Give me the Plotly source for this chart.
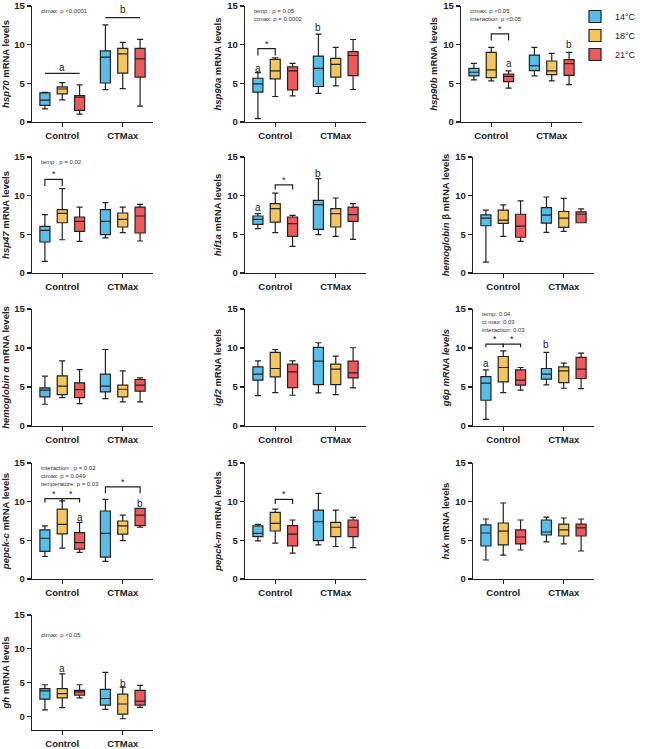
import plotly.graph_objects as go

W, H = 646, 749
groups = ["Control", "CTMax"]
temps = ["14°C", "18°C", "21°C"]
colors = ["#56BEEB", "#F6C65E", "#EE5A5C"]

# each list: [Control, CTMax], each entry (min, q1, median, q3, max)
hsp70_14 = [(1.71, 2.14, 2.82, 3.76, 3.85), (4.19, 5.04, 8.38, 9.19, 12.56)]
hsp70_18 = [(2.86, 3.63, 4.27, 4.53, 5.09), (4.32, 6.32, 8.80, 9.53, 10.30)]
hsp70_21 = [(1.03, 1.50, 3.20, 3.42, 4.79), (2.05, 5.81, 8.16, 9.53, 10.68)]

hsp90a_14 = [(0.43, 3.86, 4.93, 5.66, 6.39), (3.69, 4.59, 6.94, 8.53, 11.36)]
hsp90a_18 = [(3.30, 5.57, 6.60, 8.10, 8.31), (4.67, 5.79, 7.46, 8.23, 9.64)]
hsp90a_21 = [(3.39, 4.16, 6.60, 7.12, 7.59), (4.20, 6.00, 8.60, 9.10, 10.67)]

hsp90b_14 = [(5.44, 5.96, 6.43, 6.94, 7.59), (5.96, 6.64, 7.29, 8.66, 9.64)]
hsp90b_18 = [(5.31, 5.74, 6.73, 9.00, 9.64), (5.31, 6.13, 6.60, 7.89, 8.87)]
hsp90b_21 = [(4.37, 5.23, 5.91, 6.21, 6.60), (4.84, 6.04, 7.54, 8.06, 9.00)]

hsp47_14 = [(1.51, 4.01, 5.52, 6.03, 7.54), (4.53, 4.96, 6.68, 8.19, 9.10)]
hsp47_18 = [(4.30, 6.50, 7.70, 8.20, 10.90), (5.22, 5.95, 6.94, 7.76, 8.53)]
hsp47_21 = [(4.09, 5.39, 6.68, 7.24, 8.53), (4.14, 5.17, 7.37, 8.53, 8.88)]

hif1a_14 = [(5.73, 6.29, 6.94, 7.37, 7.67), (4.96, 5.65, 8.84, 9.40, 12.20)]
hif1a_18 = [(5.22, 6.59, 8.32, 8.97, 10.34), (4.74, 5.95, 7.67, 8.32, 9.70)]
hif1a_21 = [(3.45, 4.74, 6.38, 7.24, 7.46), (4.35, 6.68, 7.54, 8.53, 8.97)]

hbb_14 = [(1.41, 6.11, 7.09, 7.52, 8.12), (5.26, 6.45, 7.48, 8.46, 9.83)]
hbb_18 = [(4.74, 6.41, 6.85, 8.12, 8.80), (5.38, 5.90, 7.09, 7.95, 9.66)]
hbb_21 = [(4.10, 4.62, 6.07, 7.60, 9.32), (6.50, 6.50, 7.60, 7.90, 8.29)]

hba_14 = [(2.79, 3.73, 4.59, 4.89, 6.39), (3.51, 4.37, 5.10, 6.64, 9.81)]
hba_18 = [(3.64, 4.03, 5.10, 6.43, 8.36), (3.09, 3.73, 4.71, 5.23, 7.07)]
hba_21 = [(2.87, 3.64, 4.67, 5.53, 7.24), (3.09, 4.46, 5.23, 5.96, 6.17)]

igf2_14 = [(3.90, 5.87, 6.64, 7.59, 8.36), (4.24, 5.31, 8.31, 10.07, 10.67)]
igf2_18 = [(4.29, 6.30, 7.37, 9.43, 9.81), (4.03, 5.31, 7.29, 7.93, 8.96)]
igf2_21 = [(3.94, 4.93, 6.94, 7.93, 8.36), (4.89, 6.17, 6.81, 8.31, 10.03)]

g6p_14 = [(0.86, 3.30, 5.49, 6.34, 7.20), (5.27, 6.00, 6.64, 7.37, 9.43)]
g6p_18 = [(4.29, 5.66, 7.50, 8.91, 9.64), (4.84, 5.57, 7.07, 7.59, 8.06)]
g6p_21 = [(4.59, 5.23, 5.87, 7.20, 7.50), (4.80, 6.09, 7.29, 8.79, 9.34)]

pepckc_14 = [(2.91, 3.56, 5.27, 6.34, 6.86), (2.27, 2.83, 5.91, 8.79, 10.29)]
pepckc_18 = [(3.99, 5.83, 7.07, 9.04, 10.11), (4.97, 5.79, 6.86, 7.50, 8.27)]
pepckc_21 = [(3.43, 3.86, 4.71, 6.00, 7.33), (6.69, 6.90, 8.27, 9.13, 9.13)]

pepckm_14 = [(4.93, 5.49, 5.90, 6.86, 7.07), (4.41, 4.97, 7.41, 8.91, 11.06)]
pepckm_18 = [(4.63, 6.21, 7.20, 8.61, 9.04), (4.20, 5.49, 6.69, 7.33, 8.91)]
pepckm_21 = [(3.34, 4.29, 5.79, 6.90, 7.63), (4.07, 5.49, 6.69, 7.63, 7.97)]

hxk_14 = [(2.46, 4.27, 5.95, 7.00, 7.76), (4.79, 5.69, 6.08, 7.63, 8.00)]
hxk_18 = [(3.10, 4.40, 6.20, 7.24, 9.83), (4.53, 5.56, 6.34, 7.10, 7.89)]
hxk_21 = [(3.75, 4.53, 5.43, 6.34, 7.63), (3.62, 5.56, 6.60, 7.10, 7.76)]

gh_14 = [(0.97, 2.56, 3.77, 4.11, 4.69), (1.06, 1.69, 2.66, 4.02, 6.53)]
gh_18 = [(1.31, 2.76, 3.39, 4.11, 6.29), (-0.34, 0.34, 1.84, 3.29, 4.35)]
gh_21 = [(2.76, 3.14, 3.63, 3.87, 4.69), (1.35, 1.69, 2.27, 3.87, 4.60)]

ylabels = [
    "<i>hsp70</i> mRNA levels", "<i>hsp90a</i> mRNA levels", "<i>hsp90b</i> mRNA levels",
    "<i>hsp47</i> mRNA levels", "<i>hif1a</i> mRNA levels", "<i>hemoglobin</i> β mRNA levels",
    "<i>hemoglobin α</i> mRNA levels", "<i>igf2</i> mRNA levels", "<i>g6p mRNA levels</i>",
    "<i>pepck-c</i> mRNA levels", "<i>pepck-m</i> mRNA levels", "<i>hxk</i> mRNA levels",
    "<i>gh</i> mRNA levels",
]
panel_data = [
    (hsp70_14, hsp70_18, hsp70_21), (hsp90a_14, hsp90a_18, hsp90a_21),
    (hsp90b_14, hsp90b_18, hsp90b_21), (hsp47_14, hsp47_18, hsp47_21),
    (hif1a_14, hif1a_18, hif1a_21), (hbb_14, hbb_18, hbb_21),
    (hba_14, hba_18, hba_21), (igf2_14, igf2_18, igf2_21),
    (g6p_14, g6p_18, g6p_21), (pepckc_14, pepckc_18, pepckc_21),
    (pepckm_14, pepckm_18, pepckm_21), (hxk_14, hxk_18, hxk_21),
    (gh_14, gh_18, gh_21),
]
y_ranges = [[0, 15]] * 12 + [[-2, 15]]

# p-value notes per panel
notes = {
    0: ["ctmax: p <0.0001"],
    1: ["temp : p = 0.05", "ctmax: p = 0.0002"],
    2: ["ctmax: p <0.05", "interaction: p <0.05"],
    3: ["temp : p = 0.02"],
    8: ["temp: 0.04", "ct max: 0.03", "interaction: 0.03"],
    9: ["interaction : p = 0.02", "ctmax: p = 0.049", "temperature: p = 0.03"],
    12: ["ctmax: p <0.05"],
}
# letters: (panel, group, slot, y, text)
letters = [
    (0, 0, 1, 7.0, "a"), (0, 1, 1, 14.6, "b"),
    (1, 0, 0, 6.9, "a"), (1, 1, 0, 12.2, "b"),
    (2, 0, 2, 7.5, "a"), (2, 1, 2, 10.0, "b"),
    (4, 0, 0, 8.45, "a"), (4, 1, 0, 12.85, "b"),
    (8, 0, 0, 7.95, "a"), (8, 1, 0, 10.5, "b"),
    (9, 0, 2, 8.0, "a"), (9, 1, 2, 9.8, "b"),
    (12, 0, 1, 7.1, "a"), (12, 1, 1, 4.85, "b"),
]
# brackets: (panel, group, slot_from, slot_to, y, drop, label)
brackets = [
    (0, 0, 0, 2, 6.3, 0, ""), (0, 1, 0, 2, 13.5, 0, ""),
    (1, 0, 0, 1, 9.5, 0.9, "*"),
    (2, 0, 1, 2, 11.4, 0.85, "*"),
    (3, 0, 0, 1, 12.1, 0.85, "*"),
    (4, 0, 1, 2, 11.4, 0.6, "*"),
    (8, 0, 0, 1, 10.5, 0.4, "*"), (8, 0, 1, 2, 10.5, 0.4, "*"),
    (9, 0, 0, 1, 10.4, 0.5, "*"), (9, 0, 1, 2, 10.4, 0.5, "*"), (9, 1, 0, 2, 11.9, 0.8, "*"),
    (10, 0, 1, 2, 10.3, 0.6, "*"),
]

# layout geometry (pixels)
cols = [(32, 153), (245, 366), (473, 594)]
rows = [(6, 122), (157, 273), (309, 426), (463, 579), (615, 730)]
placement = [(0, 0), (1, 0), (2, 0), (0, 1), (1, 1), (2, 1), (0, 2), (1, 2), (2, 2),
             (0, 3), (1, 3), (2, 3), (0, 4)]
col_override = {2: (461, 582)}

BOXGAP = 0.14
SLOT = (1 - BOXGAP) / 3
FONT = "Liberation Sans, Arial, sans-serif"
INK = "#222222"

fig = go.Figure()
layout = dict(width=W, height=H, autosize=False,
              margin=dict(l=0, r=0, t=0, b=0, pad=0, autoexpand=False),
              paper_bgcolor="white", plot_bgcolor="white", boxmode="group",
              boxgap=BOXGAP, boxgroupgap=0.42, showlegend=True,
              font=dict(family=FONT, color=INK))
annotations, shapes = [], []

for i, (stats, ylab, yr) in enumerate(zip(panel_data, ylabels, y_ranges)):
    c, r = placement[i]
    x0, x1 = col_override.get(i, cols[c])
    top, bot = rows[r]
    sfx = "" if i == 0 else str(i + 1)
    xa, ya = "x" + sfx, "y" + sfx
    for t in range(3):
        s = stats[t]
        fig.add_trace(go.Box(
            x=[0, 1], lowerfence=[v[0] for v in s], q1=[v[1] for v in s],
            median=[v[2] for v in s], q3=[v[3] for v in s], upperfence=[v[4] for v in s],
            name=temps[t], legendgroup=temps[t], showlegend=(i == 0), offsetgroup=str(t),
            fillcolor=colors[t], line=dict(color=INK, width=1.2), whiskerwidth=0.6,
            boxpoints=False, xaxis=xa, yaxis=ya, hoverinfo="skip"))
    layout["xaxis" + sfx] = dict(
        domain=[x0 / W, x1 / W], anchor=ya, range=[-0.5, 1.5], tickvals=[0, 1],
        ticktext=["<b>%s</b>" % g for g in groups], showline=True, linecolor=INK, linewidth=1.3,
        ticks="outside", ticklen=4, tickwidth=1.3, tickcolor=INK, showgrid=False,
        zeroline=False, automargin=False, ticklabeloverflow="allow",
        tickfont=dict(size=9.5, family=FONT, color=INK), fixedrange=True)
    layout["yaxis" + sfx] = dict(
        domain=[1 - bot / H, 1 - top / H], anchor=xa, range=yr, tickvals=[0, 5, 10, 15],
        ticktext=["<b>%d</b>" % v for v in [0, 5, 10, 15]], showline=True, linecolor=INK,
        linewidth=1.3, ticks="outside", ticklen=4, tickwidth=1.3, tickcolor=INK,
        showgrid=False, zeroline=False, automargin=False, ticklabeloverflow="allow",
        tickfont=dict(size=9.5, family=FONT, color=INK),
        title=dict(text="<b>%s</b>" % ylab, font=dict(size=9.5, family=FONT, color=INK),
                   standoff=4), fixedrange=True)
    for k, line in enumerate(notes.get(i, [])):
        annotations.append(dict(xref=xa + " domain", yref=ya + " domain", x=0.055,
                                y=(1.0 - 0.045 - k * 0.066) if yr[0] == 0 else 0.83,
                                text=line, showarrow=False, xanchor="left", yanchor="middle",
                                font=dict(size=6, family=FONT, color="#333333")))

for (p, g, s, yv, txt) in letters:
    sfx = "" if p == 0 else str(p + 1)
    annotations.append(dict(xref="x" + sfx, yref="y" + sfx, x=g + (s - 1) * SLOT, y=yv,
                            text=txt, showarrow=False, yanchor="middle",
                            font=dict(size=10, family=FONT, color=INK)))

for (p, g, s0, s1, yv, drop, lab) in brackets:
    sfx = "" if p == 0 else str(p + 1)
    xa0 = g + (s0 - 1) * SLOT
    xa1 = g + (s1 - 1) * SLOT
    if drop > 0:
        path = "M %f,%f L %f,%f L %f,%f L %f,%f" % (xa0, yv - drop, xa0, yv, xa1, yv, xa1, yv - drop)
    else:
        path = "M %f,%f L %f,%f" % (xa0, yv, xa1, yv)
    shapes.append(dict(type="path", xref="x" + sfx, yref="y" + sfx, path=path,
                       line=dict(color=INK, width=1.2)))
    if lab:
        annotations.append(dict(xref="x" + sfx, yref="y" + sfx, x=(xa0 + xa1) / 2, y=yv,
                                text=lab, showarrow=False, yanchor="bottom", yshift=-2,
                                font=dict(size=9, family=FONT, color=INK)))

layout["annotations"] = annotations
layout["shapes"] = shapes
layout["legend"] = dict(x=575 / W, y=1 - 2 / H, xanchor="left", yanchor="top",
                        font=dict(size=9, family=FONT, color=INK), tracegroupgap=0,
                        itemwidth=30, bgcolor="rgba(0,0,0,0)")
fig.update_layout(**layout)
fig.write_html(
    "out.html",
    config={"displayModeBar": False, "staticPlot": True},
    post_script="document.body.style.margin='0';document.body.style.padding='0';"
                "document.documentElement.style.overflow='hidden';",
)
